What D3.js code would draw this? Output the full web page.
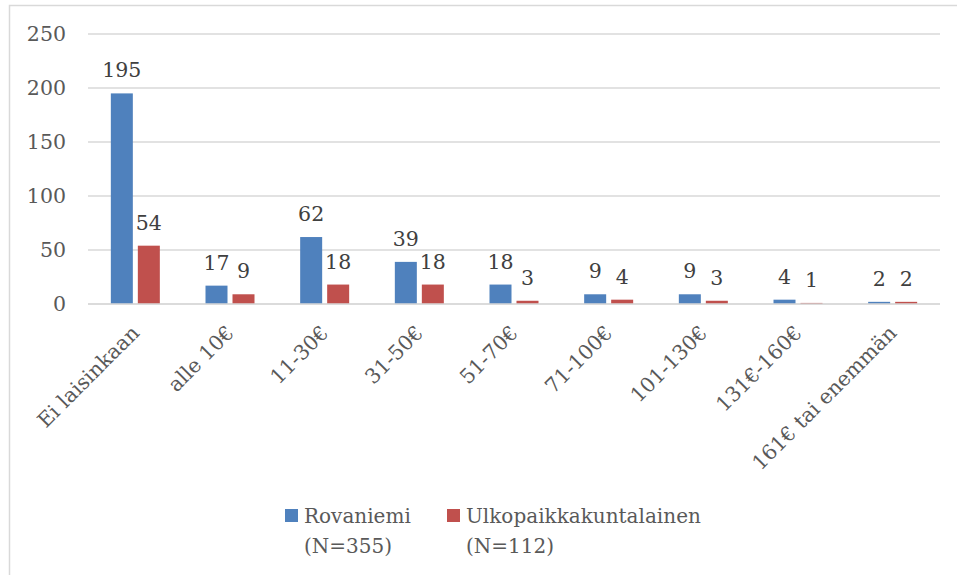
<!DOCTYPE html>
<html>
<head>
<meta charset="utf-8">
<script src="https://cdn.jsdelivr.net/npm/d3@7"></script>
<style>
  html, body { margin: 0; padding: 0; background: #fff; }
  svg { display: block; font-family: "DejaVu Serif", serif; }
</style>
</head>
<body>
<div id="chart"></div>
<script>
// chart data
const categories = ["Ei laisinkaan", "alle 10€", "11-30€", "31-50€", "51-70€",
  "71-100€", "101-130€", "131€-160€", "161€ tai enemmän"];
const rovaniemi = [195, 17, 62, 39, 18, 9, 9, 4, 2];
const ulkopaikka = [54, 9, 18, 18, 3, 4, 3, 1, 2];
const seriesNames = [["Rovaniemi", "(N=355)"], ["Ulkopaikkakuntalainen", "(N=112)"]];
const yTicks = [0, 50, 100, 150, 200, 250];

(function () {
  const W = 957, H = 575;
  const plot = { left: 88, right: 940, top: 34, bottom: 304 };
  const colours = ["#4F81BD", "#C0504D"];
  const gridColour = "#D9D9D9";
  const textColour = "#595959";

  const svg = d3.select("#chart").append("svg")
    .attr("width", W).attr("height", H);

  // outer frame (only top and left edges fall inside the picture)
  svg.append("rect")
    .attr("x", 9.5).attr("y", 5.5)
    .attr("width", W + 20).attr("height", H + 20)
    .attr("fill", "none").attr("stroke", gridColour).attr("stroke-width", 1.5);

  const x = d3.scaleBand().domain(categories)
    .range([plot.left, plot.right]);
  const y = d3.scaleLinear().domain([0, 250])
    .range([plot.bottom, plot.top]);

  // gridlines
  svg.append("g").selectAll("line")
    .data(yTicks).enter().append("line")
    .attr("x1", plot.left).attr("x2", plot.right)
    .attr("y1", (d) => y(d)).attr("y2", (d) => y(d))
    .attr("stroke", gridColour).attr("stroke-width", 1.5);

  // y axis labels
  const yAxis = d3.axisLeft(y).tickValues(yTicks).tickSize(0).tickPadding(22);
  const yg = svg.append("g")
    .attr("transform", `translate(${plot.left},0)`)
    .call(yAxis);
  yg.select(".domain").remove();
  yg.selectAll("text")
    .attr("fill", textColour)
    .style("font-family", "DejaVu Serif")
    .style("font-size", "20.5px");

  const barW = 22, gap = 5;
  const series = [rovaniemi, ulkopaikka];

  series.forEach((values, s) => {
    const offset = s === 0 ? -(barW + gap / 2) : gap / 2;
    const g = svg.append("g");
    g.selectAll("rect")
      .data(values).enter().append("rect")
      .attr("x", (d, i) => x(categories[i]) + x.bandwidth() / 2 + offset)
      .attr("y", (d) => y(d))
      .attr("width", barW)
      .attr("height", (d) => y(0) - y(d))
      .attr("fill", colours[s]);

    g.selectAll("text")
      .data(values).enter().append("text")
      .attr("x", (d, i) => x(categories[i]) + x.bandwidth() / 2 + offset + barW / 2)
      .attr("y", (d) => y(d) - 16)
      .attr("text-anchor", "middle")
      .attr("fill", "#404040")
      .style("font-size", "20.5px")
      .text((d) => d);
  });

  // category axis
  svg.append("line")
    .attr("x1", plot.left).attr("x2", plot.right)
    .attr("y1", y(0)).attr("y2", y(0))
    .attr("stroke", gridColour).attr("stroke-width", 1.5);

  svg.append("g").selectAll("text")
    .data(categories).enter().append("text")
    .attr("transform", (d) =>
      `translate(${x(d) + x.bandwidth() / 2 - 5},${plot.bottom + 20}) rotate(-45)`)
    .attr("text-anchor", "end")
    .attr("dy", "0.7em")
    .attr("fill", textColour)
    .style("font-size", "20.5px")
    .text((d) => d);

  // legend
  const legendX = [285, 447];
  seriesNames.forEach((lines, s) => {
    const lg = svg.append("g").attr("transform", `translate(${legendX[s]},509)`);
    lg.append("rect")
      .attr("width", 13).attr("height", 13)
      .attr("fill", colours[s]);
    lines.forEach((t, k) => {
      lg.append("text")
        .attr("x", 19).attr("y", 14 + k * 30)
        .attr("fill", textColour)
        .style("font-size", "20px")
        .text(t);
    });
  });
})();
</script>
</body>
</html>
